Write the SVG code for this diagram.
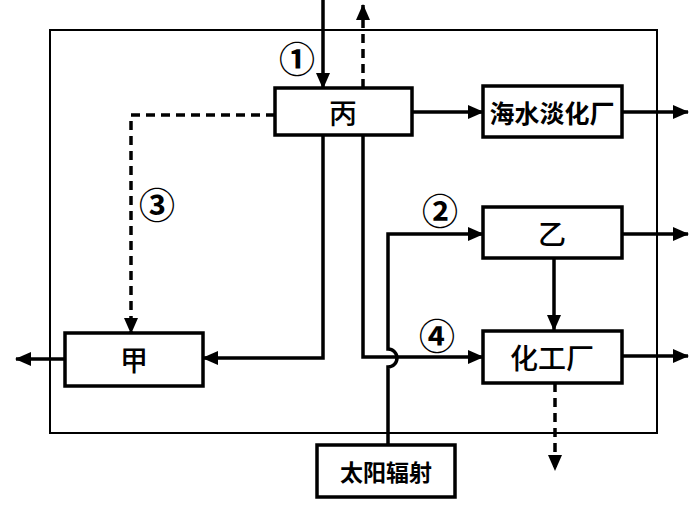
<svg xmlns="http://www.w3.org/2000/svg" width="690" height="506" viewBox="0 0 690 506">
<defs>
<marker id="ah" markerUnits="userSpaceOnUse" markerWidth="16" markerHeight="14" refX="15" refY="7" orient="auto">
<path d="M0,0 L16,7 L0,14 Z" fill="#000"/>
</marker>
<style>
.box{fill:#fff;stroke:#000;stroke-width:3.5}
.ln{fill:none;stroke:#000;stroke-width:3.5}
.ds{fill:none;stroke:#000;stroke-width:3.5;stroke-dasharray:9,6}
.fr{fill:none;stroke:#000;stroke-width:2}
.t{font-family:"Noto Sans CJK SC","Noto Sans",sans-serif;text-anchor:middle;dominant-baseline:central;fill:#000}
.big{font-size:28px;font-weight:500}
.mid{font-weight:bold}
.num{font-size:36px;font-weight:bold}
</style>
</defs>
<rect class="fr" x="50" y="30" width="607" height="403"/>
<g id="connectors">
<line class="ln" x1="323" y1="0" x2="323" y2="88" marker-end="url(#ah)"/>
<line class="ds" x1="363" y1="88" x2="363" y2="5" marker-end="url(#ah)"/>
<line class="ln" x1="412" y1="112" x2="483" y2="112" marker-end="url(#ah)"/>
<line class="ln" x1="622" y1="112" x2="688" y2="112" marker-end="url(#ah)"/>
<polyline class="ds" points="275,115 131,115 131,333" marker-end="url(#ah)"/>
<polyline class="ln" points="323,135 323,358 203,358" marker-end="url(#ah)"/>
<line class="ln" x1="65" y1="359" x2="16" y2="359" marker-end="url(#ah)"/>
<polyline class="ln" points="363,135 363,357 483,357" marker-end="url(#ah)"/>
<path class="ln" d="M388,445 L388,367 A9,9 0 0 0 388,349 L388,234 L483,234" marker-end="url(#ah)"/>
<line class="ln" x1="622" y1="234" x2="688" y2="234" marker-end="url(#ah)"/>
<line class="ln" x1="554" y1="258" x2="554" y2="330" marker-end="url(#ah)"/>
<line class="ln" x1="622" y1="356" x2="688" y2="356" marker-end="url(#ah)"/>
<line class="ds" x1="555" y1="383" x2="555" y2="470" marker-end="url(#ah)"/>
</g>
<g id="bing"><rect class="box" x="275" y="88" width="137" height="47"/><text class="t big" x="343" y="112">丙</text></g>
<g id="haishui"><rect class="box" x="483" y="86" width="139" height="51"/><text class="t mid" x="552" y="112" font-size="25">海水淡化厂</text></g>
<g id="yi"><rect class="box" x="483" y="207" width="139" height="51"/><text class="t big" x="552" y="233">乙</text></g>
<g id="huagong"><rect class="box" x="483" y="331" width="139" height="52"/><text class="t big" x="552" y="357">化工厂</text></g>
<g id="jia"><rect class="box" x="65" y="333" width="138" height="53"/><text class="t big" x="134" y="359">甲</text></g>
<g id="taiyang"><rect class="box" x="317" y="445" width="138" height="52"/><text class="t mid" x="386" y="471" font-size="23">太阳辐射</text></g>
<g id="labels">
<text class="t num" x="297" y="57">①</text>
<text class="t num" x="440" y="209">②</text>
<text class="t num" x="157" y="203">③</text>
<text class="t num" x="437" y="334">④</text>
</g>
</svg>
